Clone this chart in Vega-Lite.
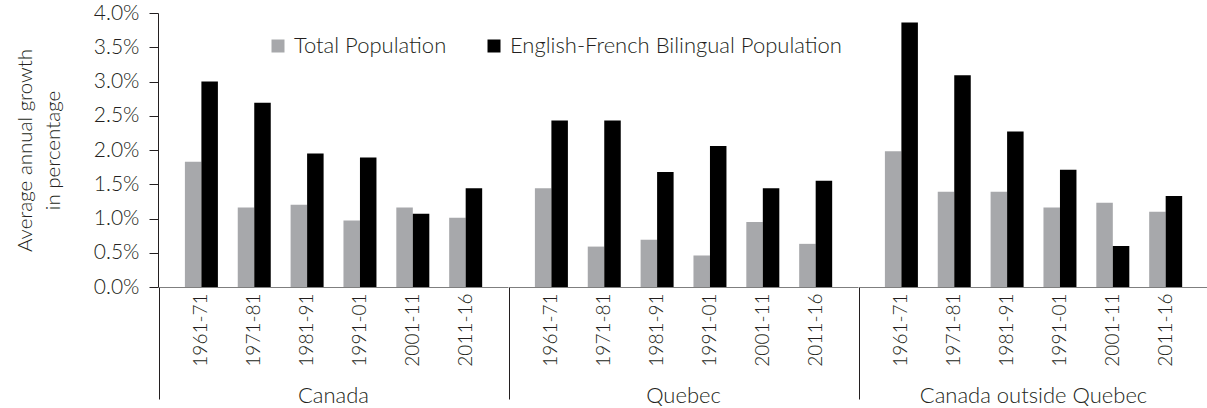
{
  "$schema": "https://vega.github.io/schema/vega-lite/v6.json",
  "padding": {"left": 15, "top": 2, "right": 0, "bottom": 0},
  "background": "white",
  "config": {
    "font": "Lato",
    "view": {"stroke": null},
    "axis": {"grid": false, "labelColor": "#231f20", "titleColor": "#231f20", "labelFontWeight": 300, "titleFontWeight": 300},
    "axisY": {"values": [0, 0.5, 1, 1.5, 2, 2.5, 3, 3.5, 4], "labelOverlap": false,
      "labelExpr": "format(datum.value, '.1f') + '%'", "labelFontSize": 21, "labelPadding": 10, "tickSize": 9,
      "tickColor": "#231f20", "domainColor": "#231f20", "titleFontSize": 20.5, "titleLineHeight": 28, "titlePadding": 30}
  },
  "data": {"values": [
    {"region": "Canada", "period": "1961-71", "series": "Total Population", "value": 1.83},
    {"region": "Canada", "period": "1961-71", "series": "English-French Bilingual Population", "value": 3.00},
    {"region": "Canada", "period": "1971-81", "series": "Total Population", "value": 1.16},
    {"region": "Canada", "period": "1971-81", "series": "English-French Bilingual Population", "value": 2.69},
    {"region": "Canada", "period": "1981-91", "series": "Total Population", "value": 1.20},
    {"region": "Canada", "period": "1981-91", "series": "English-French Bilingual Population", "value": 1.95},
    {"region": "Canada", "period": "1991-01", "series": "Total Population", "value": 0.97},
    {"region": "Canada", "period": "1991-01", "series": "English-French Bilingual Population", "value": 1.89},
    {"region": "Canada", "period": "2001-11", "series": "Total Population", "value": 1.16},
    {"region": "Canada", "period": "2001-11", "series": "English-French Bilingual Population", "value": 1.07},
    {"region": "Canada", "period": "2011-16", "series": "Total Population", "value": 1.01},
    {"region": "Canada", "period": "2011-16", "series": "English-French Bilingual Population", "value": 1.44},
    {"region": "Quebec", "period": "1961-71", "series": "Total Population", "value": 1.44},
    {"region": "Quebec", "period": "1961-71", "series": "English-French Bilingual Population", "value": 2.43},
    {"region": "Quebec", "period": "1971-81", "series": "Total Population", "value": 0.59},
    {"region": "Quebec", "period": "1971-81", "series": "English-French Bilingual Population", "value": 2.43},
    {"region": "Quebec", "period": "1981-91", "series": "Total Population", "value": 0.69},
    {"region": "Quebec", "period": "1981-91", "series": "English-French Bilingual Population", "value": 1.68},
    {"region": "Quebec", "period": "1991-01", "series": "Total Population", "value": 0.46},
    {"region": "Quebec", "period": "1991-01", "series": "English-French Bilingual Population", "value": 2.06},
    {"region": "Quebec", "period": "2001-11", "series": "Total Population", "value": 0.95},
    {"region": "Quebec", "period": "2001-11", "series": "English-French Bilingual Population", "value": 1.44},
    {"region": "Quebec", "period": "2011-16", "series": "Total Population", "value": 0.63},
    {"region": "Quebec", "period": "2011-16", "series": "English-French Bilingual Population", "value": 1.55},
    {"region": "Canada outside Quebec", "period": "1961-71", "series": "Total Population", "value": 1.98},
    {"region": "Canada outside Quebec", "period": "1961-71", "series": "English-French Bilingual Population", "value": 3.86},
    {"region": "Canada outside Quebec", "period": "1971-81", "series": "Total Population", "value": 1.39},
    {"region": "Canada outside Quebec", "period": "1971-81", "series": "English-French Bilingual Population", "value": 3.09},
    {"region": "Canada outside Quebec", "period": "1981-91", "series": "Total Population", "value": 1.39},
    {"region": "Canada outside Quebec", "period": "1981-91", "series": "English-French Bilingual Population", "value": 2.27},
    {"region": "Canada outside Quebec", "period": "1991-01", "series": "Total Population", "value": 1.16},
    {"region": "Canada outside Quebec", "period": "1991-01", "series": "English-French Bilingual Population", "value": 1.71},
    {"region": "Canada outside Quebec", "period": "2001-11", "series": "Total Population", "value": 1.23},
    {"region": "Canada outside Quebec", "period": "2001-11", "series": "English-French Bilingual Population", "value": 0.60},
    {"region": "Canada outside Quebec", "period": "2011-16", "series": "Total Population", "value": 1.10},
    {"region": "Canada outside Quebec", "period": "2011-16", "series": "English-French Bilingual Population", "value": 1.33}
  ]},
  "facet": {"column": {"field": "region", "type": "nominal", "sort": ["Canada", "Quebec", "Canada outside Quebec"], "header": null}},
  "spacing": 0,
  "resolve": {"scale": {"x": "independent"}, "axis": {"x": "independent"}},
  "spec": {
    "width": 349,
    "height": 274,
    "resolve": {"scale": {"x": "independent"}, "axis": {"x": "independent"}},
    "layer": [
      {
        "mark": {"type": "bar"},
        "encoding": {
          "x": {"field": "period", "type": "nominal", "sort": ["1961-71", "1971-81", "1981-91", "1991-01", "2001-11", "2011-16"],
            "scale": {"paddingInner": 0.377, "paddingOuter": 0.49},
            "axis": {"title": null, "orient": "bottom", "labelAngle": -90, "ticks": false, "domainColor": "#7f7f7f", "domainWidth": 1, "labelFontSize": 19, "labelPadding": 6}},
          "xOffset": {"field": "series", "type": "nominal", "sort": ["Total Population", "English-French Bilingual Population"], "scale": {"range": [0, 33]}},
          "y": {"field": "value", "type": "quantitative", "scale": {"domain": [0, 4]}, "axis": {"title": ["Average annual growth", "in percentage"]}},
          "color": {"field": "series", "type": "nominal",
            "scale": {"domain": ["Total Population", "English-French Bilingual Population"], "range": ["#a7a8ab", "#000000"]},
            "legend": {"title": null, "orient": "none", "direction": "horizontal", "legendX": 108, "legendY": 22, "labelLimit": 0,
              "symbolType": "square", "symbolSize": 169, "symbolStrokeWidth": 0, "labelFontSize": 22, "labelFontWeight": 300,
              "labelColor": "#231f20", "columnPadding": 36, "labelOffset": 5}}
        }
      },
      {
        "mark": {"type": "point", "opacity": 0},
        "encoding": {
          "x": {"field": "region", "type": "nominal", "scale": {"type": "band", "paddingInner": 0, "paddingOuter": 0},
            "axis": {"title": null, "orient": "bottom", "domain": false, "labels": false, "ticks": true, "bandPosition": 0, "tickSize": 112, "tickColor": "#231f20", "tickWidth": 1}},
          "y": {"field": "value", "type": "quantitative", "axis": {"title": ["Average annual growth", "in percentage"]}}
        }
      },
      {
        "mark": {"type": "point", "opacity": 0},
        "encoding": {
          "x": {"field": "region", "type": "nominal", "scale": {"type": "band", "paddingInner": 0, "paddingOuter": 0},
            "axis": {"title": null, "orient": "bottom", "domain": false, "ticks": false, "tickSize": 0, "labelAngle": 0, "labelFontSize": 22, "labelLimit": 0, "labelPadding": 98}},
          "y": {"field": "value", "type": "quantitative", "axis": {"title": ["Average annual growth", "in percentage"]}}
        }
      }
    ]
  }
}
